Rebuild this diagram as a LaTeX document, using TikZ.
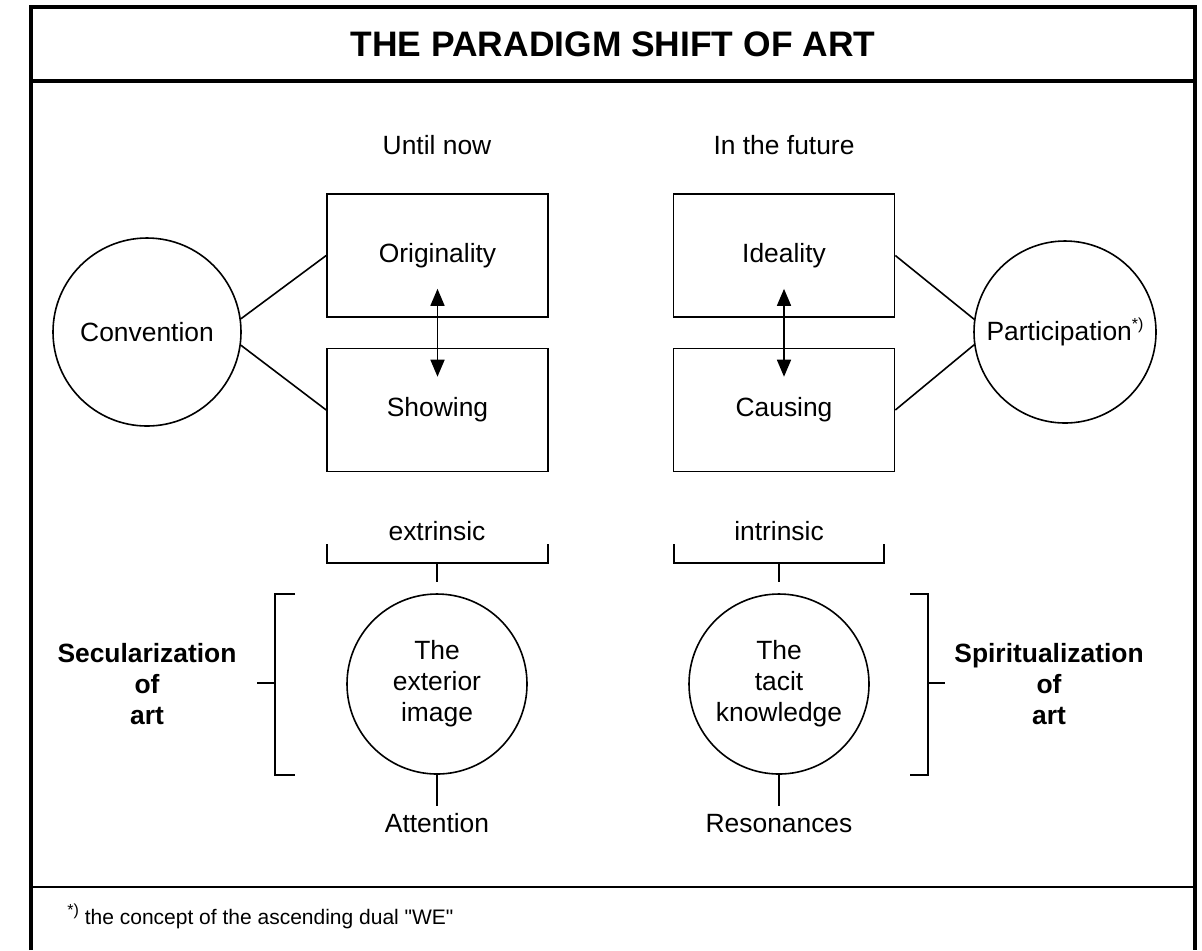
\documentclass[tikz,border=0pt]{standalone}
\usepackage{fontspec}
\setmainfont{Liberation Sans}
\newfontfamily\rawfont{Liberation Sans}[Ligatures=TeXOff]
\usetikzlibrary{arrows.meta}
\usetikzlibrary{positioning}
\newcommand{\starnote}{\raisebox{0.8ex}{\fontsize{8}{9}\selectfont *)}}

\begin{document}
\begin{tikzpicture}[x=0.5pt, y=-0.5pt, line width=0.8pt,
  every node/.style={font=\fontsize{13.2}{15.5}\selectfont},
  ring/.style={circle, draw, inner sep=0pt, minimum size=#1},
  panel/.style={rectangle, draw, minimum width=110.5pt, minimum height=61.5pt},
  side/.style={align=center, font=\fontsize{13.2}{15.5}\selectfont\bfseries},
  twoway/.style={{Triangle[width=7pt,length=8.5pt]}-{Triangle[width=7pt,length=8.5pt]},
    shorten <=-14.5pt, shorten >=-14.5pt}]
 \useasboundingbox (0,0) rectangle (1202,950);
 % frame
 \draw[line width=2pt] (31,950) -- (31,7) -- (1195,7) -- (1195,950);
 \draw[line width=1.8pt] (31,81) -- (1195,81);
 \draw[line width=1.4pt] (31,887) -- (1195,887);
 \node[font=\fontsize{17.7}{20}\selectfont\bfseries] (title) at (613,44) {THE PARADIGM SHIFT OF ART};

 \node (until) at (437,145) {Until now};
 \node (future) at (784,145) {In the future};

  \node[ring=94pt] (conv) at (147,332) {Convention};
  \node[panel] (orig) at (437.5,255.5) {Originality};
  \node[panel] (show) at (437.5,410) {Showing};

  \node[panel] (ideal) at (784,255.5) {Ideality};
  \node[panel] (caus) at (784,410) {Causing};
  \node[ring=91pt] (part) at (1065,332) {Participation\starnote};

  \draw (conv.8) -- (orig.west);
  \draw (conv.-8) -- (show.west);
  \draw (part.172) -- (ideal.east);
  \draw (part.188) -- (caus.east);
  \draw[twoway] (orig) -- (show);
  \draw[twoway] (ideal) -- (caus);

  \node (extr) at (437,531) {extrinsic};
  \node (intr) at (779,531) {intrinsic};
  \draw (327,544) |- (548,563) -- (548,544);
  \draw (437,563) -- (437,582);
  \draw (674,544) |- (884,563) -- (884,544);
  \draw (779,563) -- (779,582);

  \node[ring=90pt, align=center] (ext) at (437,684) {The\\exterior\\image};
  \node[ring=90pt, align=center] (tacit) at (779,684) {The\\tacit\\knowledge};
  \node[below=15.5pt of ext, text height=9.5pt, text depth=2pt] (attn) {Attention};
  \node[below=15.5pt of tacit, text height=9.5pt, text depth=2pt] (reso) {Resonances};
  \draw (ext) -- (attn);
  \draw (tacit) -- (reso);

  \node[side] (secu) at (147,684) {Secularization\\of\\art};
  \node[side] (spir) at (1049,684) {Spiritualization\\of\\art};
  \draw (295,594) -- (275,594) -- (275,775) -- (295,775);
  \draw (275,683) -- (257,683);
  \draw (910,594) -- (928,594) -- (928,775) -- (910,775);
  \draw (928,683) -- (945,683);

 \node[anchor=west, font=\fontsize{10.5}{12}\selectfont] (note) at (60,916)
   {\starnote\ the concept of the ascending dual {\rawfont "WE"}};
\end{tikzpicture}
\end{document}
